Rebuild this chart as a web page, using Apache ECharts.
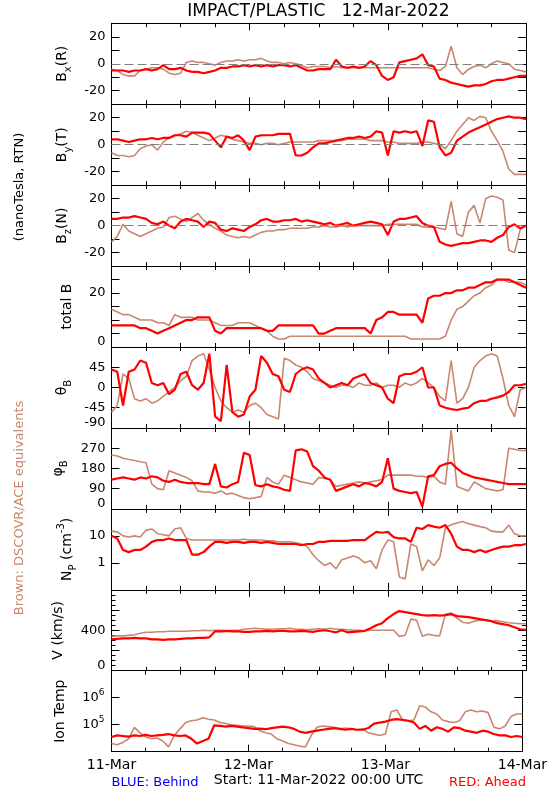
<!DOCTYPE html>
<html><head><meta charset="utf-8">
<script src="https://cdn.jsdelivr.net/npm/echarts@6/dist/echarts.min.js"></script>
<style>html,body{margin:0;padding:0;background:#fff}#c{width:550px;height:800px}</style>
</head><body><div id="c"></div>
<script>
// hours since 11-Mar-2022 00:00 UTC
const hours = [0,1,2,3,4,5,6,7,8,9,10,11,12,13,14,15,16,17,18,19,20,21,22,23,24,25,26,27,28,29,30,31,32,33,34,35,36,37,38,39,40,41,42,43,44,45,46,47,48,49,50,51,52,53,54,55,56,57,58,59,60,61,62,63,64,65,66,67,68,69,70,71,72];

// Bx (R)
const bxAhead = [-5,-5,-5,-6,-5,-5,-4,-5,-4,-1,-4,-4,-3,-5,-6,-6,-7,-6,-5,-3,-3,-2,-2,-1,-2,-1,-2,-1,-2,-1,-1,-2,-1,-3,-5,-5,-4,-4,-4,3,-2,-3,-2,-3,-2,2,-1,-9,-12,-10,1,2,3,4,7,-1,-2,-11,-12,-14,-15,-16,-17,-16,-16,-15,-13,-12,-12,-11,-10,-9,-9];
const bxDscovr = [-4,-5,-8,-9,-9,-5,-4,-3,-3,-4,-7,-8,-7,1,2,1,1,0,-1,1,2,2,3,2,3,3,4,2,1,1,0,1,0,-1,-3,-2,-2,-2,-3,-2,-3,-3,-3,-3,-3,-3,-3,-3,-3,-3,-3,-3,-3,-3,-3,-3,-4,-5,-2,13,-3,-8,-4,-2,-1,-3,0,2,1,0,-4,-5,-6];
// By (T)
const byAhead = [4,4,3,2,3,4,4,5,4,5,5,7,7,6,9,9,9,8,3,-2,6,5,7,3,-4,6,7,7,7,8,8,8,-8,-8,-6,-2,1,1,2,3,4,5,5,6,5,6,10,9,-8,10,9,10,9,10,-1,18,17,-2,-8,-6,3,6,9,11,13,15,17,19,20,21,20,20,19];
const byDscovr = [-6,-8,-8,-9,-8,-3,-1,0,-4,2,5,7,8,10,9,7,5,3,5,7,6,4,3,2,1,1,0,1,1,0,1,2,2,2,2,2,3,3,3,3,3,4,4,4,4,3,3,3,2,2,1,1,1,1,2,2,1,0,-3,3,10,15,20,18,21,20,10,3,-5,-18,-22,-22,-22];
// Bz (N)
const bzAhead = [5,5,6,6,7,6,5,2,1,3,0,-2,3,5,4,3,-1,3,2,-3,-4,-2,-3,-4,-1,1,4,5,3,3,4,4,5,3,4,3,2,1,2,0,1,2,0,1,2,3,2,1,-7,3,5,5,6,7,2,0,-1,-12,-14,-15,-14,-13,-13,-12,-11,-11,-12,-9,-7,-1,1,-2,0];
const bzDscovr = [-12,-8,1,-4,-6,-8,-6,-4,-2,-1,6,7,5,3,6,9,4,1,-2,-4,-7,-8,-9,-8,-9,-7,-5,-4,-4,-3,-3,-2,-2,-2,-2,-1,-1,0,-1,-1,0,-1,0,0,0,0,0,0,1,1,1,1,1,1,-1,-1,-1,-2,-3,18,-6,-8,10,15,2,20,22,21,19,-18,-20,-3,0];
// total B
const btAhead = [8,8,8,8,8,7,7,6,5,6,7,8,9,10,10,11,11,11,6,5,7,7,7,7,7,7,7,6,6,8,8,8,8,8,8,8,5,5,6,7,7,7,7,7,7,5,10,11,13,13,12,12,12,12,9,18,19,19,20,20,21,21,22,22,23,24,24,25,25,25,24,23,22];
const btDscovr = [14,13,12,12,11,10,10,10,9,9,8,12,11,11,11,10,10,10,9,8,8,8,9,9,9,8,7,6,4,3,3,4,4,4,4,4,4,4,4,4,4,4,4,4,4,4,4,4,4,4,4,4,3,3,3,3,3,3,4,10,14,15,17,19,20,22,23,25,25,24,24,24,23];
// theta B (deg)
const thAhead = [40,35,-40,35,40,60,55,10,5,10,-15,-5,30,35,5,-5,10,75,-65,-75,50,-55,-65,-60,-20,-5,70,55,30,25,-5,-10,30,40,45,40,20,10,0,5,10,5,20,25,30,10,5,0,-25,-35,25,30,30,35,45,0,0,-40,-45,-48,-50,-47,-45,-35,-30,-30,-25,-22,-18,-10,5,5,8];
const thDscovr = [-55,-40,30,20,-25,-30,-25,-35,-30,-20,-10,0,15,25,60,70,75,40,0,-30,-45,-55,-50,-55,-40,-35,-45,-60,-65,-70,65,60,50,45,35,20,15,10,5,0,5,5,0,10,5,5,10,0,5,5,0,10,5,10,20,10,0,-20,-30,60,-35,-25,0,45,60,70,75,70,20,-40,-65,-5,0];
// phi B (deg)
const phAhead = [130,135,140,135,130,140,135,145,140,125,120,130,120,115,115,115,110,110,200,100,95,110,120,250,240,105,100,110,100,95,85,80,260,265,255,190,170,140,130,80,90,100,110,100,115,110,100,120,225,90,80,75,70,75,10,145,150,190,200,205,180,160,150,140,135,130,125,120,115,110,110,110,110];
const phDscovr = [240,235,225,220,215,210,205,110,90,85,170,160,150,140,125,80,75,75,70,80,65,70,60,50,45,50,55,140,120,110,150,140,130,120,115,110,140,135,130,100,105,110,115,120,115,120,125,130,150,150,150,150,150,145,145,140,145,120,110,350,100,90,80,120,105,90,85,80,85,270,265,260,260];
// proton density (cm^-3)
const npAhead = [10,8,3,2.5,3,3,4,6,7,7,8,7,7,7,2,2,2.5,4,6,6,5.5,6,6,5.5,6,6,5.5,6,5.5,5,5,5,5,4.5,5,5,6,6,6.5,6.5,6.5,6.5,7,7,7,10,14,13,14,9,8,8,6,20,18,25,22,20,25,12,4,3,3,2.5,3,2.5,3,3.5,4,4,4.5,4.5,5];
const npDscovr = [15,14,10,9,10,9,16,18,12,11,10,18,20,8,7,7,7,7,7,7,7,7,7,7.5,7,7,7,6.5,6.5,6,6,6,5.5,5,4,2,1.2,0.8,1,0.6,1.3,1.5,1.8,1.5,1,1.2,0.6,3,7,6,0.3,0.25,5,4,0.5,1.3,0.8,1.5,20,26,30,34,28,25,22,20,15,14,14,25,12,10,10];
// bulk speed (km/s)
const vAhead = [310,315,320,320,325,320,320,310,310,305,310,310,315,320,320,325,325,330,390,390,395,390,390,385,385,390,390,395,390,395,395,390,390,395,390,385,395,400,390,380,400,380,385,390,395,420,450,470,520,560,590,580,570,560,550,545,550,545,550,560,540,535,530,520,510,500,490,470,460,450,430,410,405];
const vDscovr = [340,345,345,350,355,370,380,380,385,385,390,390,390,390,395,395,400,395,400,400,395,400,400,410,415,420,415,410,410,415,415,420,410,410,405,410,415,410,420,410,410,405,400,400,395,400,400,400,400,400,340,350,510,500,340,360,350,345,560,570,520,480,470,490,500,500,490,495,485,475,470,465,465];
// ion temperature (K)
const tAhead = [35000,40000,38000,36000,40000,38000,42000,38000,40000,42000,45000,40000,38000,40000,30000,20000,25000,30000,95000,90000,85000,90000,85000,80000,75000,70000,72000,68000,75000,80000,85000,80000,70000,55000,50000,55000,60000,65000,70000,75000,70000,65000,70000,65000,65000,75000,110000,120000,130000,150000,160000,150000,140000,120000,70000,90000,60000,80000,70000,55000,80000,75000,60000,55000,50000,60000,55000,45000,40000,40000,35000,38000,35000];
const tDscovr = [20000,18000,22000,30000,80000,50000,35000,30000,32000,25000,15000,40000,70000,120000,140000,150000,180000,160000,150000,120000,110000,100000,95000,90000,90000,85000,60000,50000,45000,30000,25000,20000,18000,16000,15000,40000,80000,90000,85000,80000,70000,75000,70000,65000,70000,50000,45000,40000,45000,300000,350000,150000,140000,150000,500000,450000,300000,250000,150000,130000,120000,140000,300000,350000,300000,320000,280000,80000,70000,90000,200000,250000,250000];

// tick labels
const dayLabels = {'0':'11-Mar','24':'12-Mar','48':'13-Mar','72':'14-Mar'};
const bTicks = {'20':'20','0':'0','-20':'-20'};
const btTicks = {'0':'{lo|0}','20':'20'};
const thTicks = {'45':'45','0':'0','-45':'-45','-90':'{lo|-90}'};
const phTicks = {'270':'270','180':'180','90':'90','0':'{lo|0}'};
const npTicks = {'10':'10','1':'1'};
const vTicks = {'400':'400','0':'{lo|0}'};
const tTicks = {'100000':'10{sup|5}','1000000':'10{sup|6}'};

const FONT = 'DejaVu Sans';
const RED = '#ff0000', BROWN = '#c8876e';
const TOP = 23.3, H = 80.93, LEFT = 111.5, W = 414.5;

function pairs(v){ return hours.map((h,i)=>[h, v[i]]); }
function fmt(map){ return function(v){ const k = String(Math.round(v*1000)/1000); return map[k] !== undefined ? map[k] : ''; }; }

const nameRich = {
  sub:{fontSize:10, fontFamily:FONT, color:'#000', verticalAlign:'bottom'},
  sup:{fontSize:10, fontFamily:FONT, color:'#000', verticalAlign:'top'}
};
const labelRich = {
  lo:{fontSize:13, fontFamily:FONT, color:'#000', padding:[0,0,10,0]},
  sup:{fontSize:9, fontFamily:FONT, color:'#000', verticalAlign:'top'}
};

const panels = [
  {name:'B{sub|x}(R)', gap:38, y:{type:'value',min:-30,max:30,interval:10}, ticks:bTicks, zero:true, red:bxAhead, brown:bxDscovr},
  {name:'B{sub|y}(T)', gap:38, y:{type:'value',min:-30,max:30,interval:10}, ticks:bTicks, zero:true, red:byAhead, brown:byDscovr},
  {name:'B{sub|z}(N)', gap:38, y:{type:'value',min:-30,max:30,interval:10}, ticks:bTicks, zero:true, red:bzAhead, brown:bzDscovr},
  {name:'total B', gap:31, y:{type:'value',min:0,max:30,interval:5}, ticks:btTicks, red:btAhead, brown:btDscovr},
  {name:'\u03b8{sub|B}', gap:36, y:{type:'value',min:-90,max:90,interval:45}, ticks:thTicks, red:thAhead, brown:thDscovr},
  {name:'\u03c6{sub|B}', gap:34, y:{type:'value',min:0,max:360,interval:90}, ticks:phTicks, red:phAhead, brown:phDscovr},
  {name:'N{sub|P} (cm{sup|-3})', gap:27, y:{type:'log',logBase:10,min:0.1,max:100}, ticks:npTicks, red:npAhead, brown:npDscovr},
  {name:'V (km/s)', gap:36, y:{type:'value',min:0,max:800,interval:200}, minor:4, ticks:vTicks, red:vAhead, brown:vDscovr},
  {name:'Ion Temp', gap:36, y:{type:'log',logBase:10,min:10000,max:10000000}, ticks:tTicks, sup:true, red:tAhead, brown:tDscovr}
];

const grid = [], xAxis = [], yAxis = [], series = [];
const lineC = {show:true, onZero:false, lineStyle:{color:'#000', width:1}};
panels.forEach((p, i) => {
  grid.push({left:LEFT, top:TOP + i*H, width:W, height:H});
  const last = i === panels.length - 1;
  ['bottom','top'].forEach(pos => {
    xAxis.push({
      gridIndex:i, type:'value', min:0, max:72, interval:24, position:pos,
      axisLine:lineC, splitLine:{show:false},
      axisTick:{show:true, inside:true, length:7, lineStyle:{color:'#000'}},
      minorTick:{show:true, splitNumber:4, length:4, lineStyle:{color:'#000'}},
      axisLabel:{show: last && pos === 'bottom', formatter: fmt(dayLabels), fontFamily:FONT, fontSize:14, color:'#000', margin:7}
    });
  });
  ['left','right'].forEach(pos => {
    const ax = Object.assign({}, p.y, {
      gridIndex:i, position:pos,
      axisLine:lineC, splitLine:{show:false},
      axisTick:{show:true, inside:true, length:8, lineStyle:{color:'#000'}},
      minorTick:{show: !!p.minor, splitNumber:p.minor || 5, length:4, lineStyle:{color:'#000'}},
      axisLabel:{show: pos === 'left', formatter: fmt(p.ticks), fontFamily:FONT, fontSize:13, color:'#000', margin:6,
        showMinLabel:true, showMaxLabel:true, rich:labelRich}
    });
    if (p.sup) { ax.axisLabel.lineHeight = 20; ax.axisLabel.margin = 7; }
    if (pos === 'left') {
      ax.name = p.name; ax.nameLocation = 'middle'; ax.nameRotate = 90; ax.nameGap = p.gap;
      ax.nameTextStyle = {fontFamily:FONT, fontSize:14, color:'#000', lineHeight:22, rich:nameRich};
    }
    yAxis.push(ax);
  });
  const b = {
    type:'line', xAxisIndex:2*i, yAxisIndex:2*i, data:pairs(p.brown), showSymbol:false, symbol:'none',
    lineStyle:{color:BROWN, width:1.6}, z:2, silent:true
  };
  if (p.zero) b.markLine = {silent:true, symbol:'none', label:{show:false}, lineStyle:{color:'#808080', type:[9,4], width:1}, data:[{yAxis:0}]};
  series.push(b);
  series.push({
    type:'line', xAxisIndex:2*i, yAxisIndex:2*i, data:pairs(p.red), showSymbol:false, symbol:'none',
    lineStyle:{color:RED, width:2.2}, z:3, silent:true
  });
});

const graphic = [
  {type:'text', x:318.5, y:12, style:{text:'IMPACT/PLASTIC   12-Mar-2022', font:'17px "DejaVu Sans"', fill:'#000', align:'center', verticalAlign:'middle'}},
  {type:'text', x:20, y:187, rotation:Math.PI/2, style:{text:'(nanoTesla, RTN)', font:'13px "DejaVu Sans"', fill:'#000', align:'center', verticalAlign:'middle'}},
  {type:'text', x:20, y:508, rotation:Math.PI/2, style:{text:'Brown: DSCOVR/ACE equivalents', font:'13px "DejaVu Sans"', fill:BROWN, align:'center', verticalAlign:'middle'}},
  {type:'text', x:111.5, y:783, style:{text:'BLUE: Behind', font:'13px "DejaVu Sans"', fill:'#0000ff', align:'left', verticalAlign:'middle'}},
  {type:'text', x:318.5, y:780, style:{text:'Start: 11-Mar-2022 00:00 UTC', font:'14px "DejaVu Sans"', fill:'#000', align:'center', verticalAlign:'middle'}},
  {type:'text', x:526, y:783, style:{text:'RED: Ahead', font:'13px "DejaVu Sans"', fill:RED, align:'right', verticalAlign:'middle'}}
];

const chart = echarts.init(document.getElementById('c'), null, {renderer:'canvas'});
chart.setOption({animation:false, backgroundColor:'#fff', grid, xAxis, yAxis, series, graphic});
</script>
</body></html>
